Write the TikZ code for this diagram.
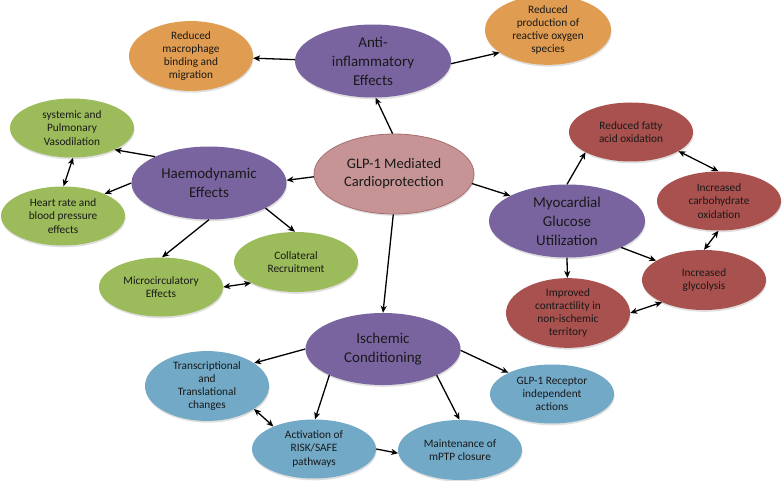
\documentclass[tikz,border=0pt]{standalone}
\usepackage{fontspec}
\setmainfont{Carlito}
\usetikzlibrary{shapes.geometric,arrows.meta,shadows}
\definecolor{cpurple}{HTML}{7A64A0}
\definecolor{corange}{HTML}{E09C50}
\definecolor{cgreen}{HTML}{9CBB5B}
\definecolor{cred}{HTML}{A9514E}
\definecolor{cblue}{HTML}{71A9C7}
\definecolor{cpink}{HTML}{C69495}
\definecolor{cpinkb}{HTML}{A86E6E}
\tikzset{
  ell/.style={ellipse, inner sep=0pt, align=center, text=black!90,
    drop shadow={opacity=0.25, shadow xshift=0.6pt, shadow yshift=-1.8pt}},
  bigell/.style={ell, fill=cpurple, minimum width=156pt, minimum height=73pt,
    font=\fontsize{15}{19}\selectfont},
  smallell/.style={ell, minimum width=124pt, minimum height=59pt,
    font=\fontsize{11.3}{13.2}\selectfont},
  orangeell/.style={smallell, fill=corange},
  greenell/.style={smallell, fill=cgreen},
  redell/.style={smallell, fill=cred},
  blueell/.style={smallell, fill=cblue},
  arr/.style={draw=black, line width=1.3pt, -{Stealth[length=7pt,width=6pt,inset=2pt]}},
  darr/.style={draw=black, line width=1.3pt, {Stealth[length=7pt,width=6pt,inset=2pt]}-{Stealth[length=7pt,width=6pt,inset=2pt]}}
}
\begin{document}
\begin{tikzpicture}[x=1pt,y=-1pt]
\useasboundingbox (0,0) rectangle (782,481);
% center
\node[ell, fill=cpink, draw=cpinkb, line width=0.8pt, minimum width=160pt, minimum height=80pt,
  font=\fontsize{14.5}{18}\selectfont] (glp) at (394,174) {GLP-1 Mediated\\Cardioprotection};
% main purple
\node[bigell] (anti) at (373,61) {Anti-\\inflammatory\\Effects};
\node[bigell, minimum width=155pt] (haemo) at (209,183) {Haemodynamic\\Effects};
\node[bigell] (myo) at (567,221) {Myocardial\\Glucose\\Utilization};
\node[bigell, minimum width=155pt, minimum height=72pt] (isch) at (383,349) {Ischemic\\Conditioning};
% orange
\node[orangeell] (macro) at (191,56) {Reduced\\macrophage\\binding and\\migration};
\node[orangeell, minimum width=126pt, minimum height=60pt] (ros) at (548,30) {Reduced\\production of\\reactive oxygen\\species};
% green
\node[greenell] (sys) at (72,128) {systemic and\\Pulmonary\\Vasodilation};
\node[greenell] (heart) at (63,216) {Heart rate and\\blood pressure\\effects};
\node[greenell] (micro) at (161,287) {Microcirculatory\\Effects};
\node[greenell, minimum height=60pt] (coll) at (296,262) {Collateral\\Recruitment};
% red
\node[redell] (fatty) at (631,132) {Reduced fatty\\acid oxidation};
\node[redell] (carb) at (719,201) {Increased\\carbohydrate\\oxidation};
\node[redell, minimum height=60pt] (glyc) at (704,280) {Increased\\glycolysis};
\node[redell, minimum height=60pt] (impr) at (568,313) {Improved\\contractility in\\non-ischemic\\territory};
% blue
\node[blueell] (trans) at (207,386) {Transcriptional\\and\\Translational\\changes};
\node[blueell] (activ) at (314,449) {Activation of\\RISK/SAFE\\pathways};
\node[blueell, minimum height=60pt] (maint) at (460,450) {Maintenance of\\mPTP closure};
\node[blueell] (glp1r) at (552,394) {GLP-1 Receptor\\independent\\actions};
% connectors
\draw[arr] (glp.92) -- (anti.-86);
\draw[arr] (anti.179) -- (macro.-2);
\draw[arr] (anti.-2) -- (ros.205);
\draw[arr] (glp.182) -- (haemo.2);
\draw[arr] (glp.-7) -- (myo.156);
\draw[arr] (glp.-91) -- (isch.90);
\draw[arr] (haemo.154) -- (sys.-27);
\draw[arr] (haemo.180) -- (heart.28);
\draw[darr] (sys.-88) -- (heart.89);
\draw[arr] (haemo.-90) -- (micro.88);
\draw[arr] (haemo.-24) -- (coll.92);
\draw[darr] (micro.0) -- (coll.205);
\draw[arr] (myo.90) -- (fatty.204);
\draw[darr] (fatty.-22) -- (carb.91);
\draw[arr] (myo.-26) -- (glyc.158);
\draw[arr] (myo.-90) -- (impr.91);
\draw[darr] (carb.-91) -- (glyc.90);
\draw[darr] (glyc.208) -- (impr.0);
\draw[arr] (isch.180) -- (trans.26);
\draw[arr] (isch.206) -- (activ.88);
\draw[arr] (isch.-26) -- (maint.91);
\draw[arr] (isch.-1) -- (glp1r.154);
\draw[darr] (trans.-26) -- (activ.151);
\draw[arr] (activ.0) -- (maint.183);
\end{tikzpicture}
\end{document}
